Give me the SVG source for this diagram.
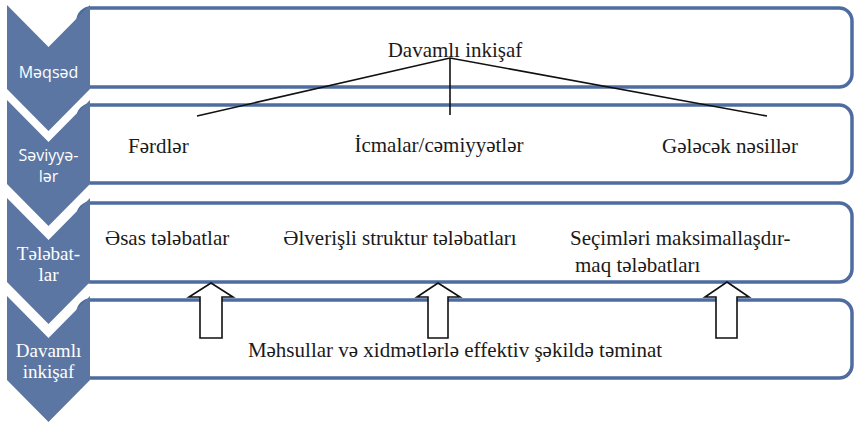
<svg xmlns="http://www.w3.org/2000/svg" width="855" height="427" viewBox="0 0 855 427">
<defs>
<style>
.box{fill:#fff;stroke:#4e6ca0;stroke-width:3.5}
.chev{fill:#5b76a3}
.ct{fill:#fff;font-family:"Open Sans","Liberation Sans",sans-serif;font-size:16px;text-anchor:middle}
.cs{fill:#fff;font-family:"Liberation Serif","DejaVu Serif",serif;font-size:19px;text-anchor:middle}
.t{fill:#1a1a1a;font-family:"Liberation Serif","DejaVu Serif",serif;font-size:21px}
.m{text-anchor:middle}
.ln{stroke:#111;stroke-width:1.6;fill:none}
.arr{fill:#fff;stroke:#111;stroke-width:1.6;stroke-linejoin:miter}
</style>
</defs>
<rect width="855" height="427" fill="#fff"/>
<g id="row1">
<rect class="box" x="78" y="8" width="774" height="79" rx="13"/>
<polygon class="chev" points="7,5 48.5,47 90,5 90,89 48.5,131 7,89"/>
<text class="ct" x="48.5" y="78">Məqsəd</text>
<text class="t m" x="455" y="57">Davamlı inkişaf</text>
</g>
<g id="row2">
<rect class="box" x="78" y="105" width="774" height="78" rx="13"/>
<polygon class="chev" points="7,100 48.5,142 90,100 90,184 48.5,226 7,184"/>
<text class="ct" x="48.5" y="161">Səviyyə-</text>
<text class="ct" x="48.5" y="182">lər</text>
<text class="t" x="128" y="153">Fərdlər</text>
<text class="t m" x="439" y="152">İcmalar/cəmiyyətlər</text>
<text class="t m" x="730" y="153">Gələcək nəsillər</text>
</g>
<g id="row3">
<rect class="box" x="78" y="203" width="774" height="79" rx="13"/>
<polygon class="chev" points="7,198 48.5,240 90,198 90,282 48.5,324 7,282"/>
<text class="cs" x="48.5" y="260">Tələbat-</text>
<text class="cs" x="48.5" y="281">lar</text>
<text class="t" x="105" y="245">Əsas tələbatlar</text>
<text class="t m" x="400" y="245">Əlverişli struktur tələbatları</text>
<text class="t" x="570" y="245">Seçimləri maksimallaşdır-</text>
<text class="t" x="575" y="272">maq tələbatları</text>
</g>
<g id="row4">
<rect class="box" x="78" y="300" width="774" height="78" rx="13"/>
<polygon class="chev" points="7,296 48.5,338 90,296 90,380 48.5,422 7,380"/>
<text class="cs" x="48.5" y="357">Davamlı</text>
<text class="cs" x="48.5" y="378">inkişaf</text>
<text class="t m" x="455" y="357">Məhsullar və xidmətlərlə effektiv şəkildə təminat</text>
</g>
<g id="connectors">
<polyline class="ln" points="197,116 450,58 767,116"/>
<line class="ln" x1="450" y1="58" x2="450" y2="115"/>
<polygon class="arr" points="211,283 233,297 222,297 222,338 200,338 200,297 189,297"/>
<polygon class="arr" points="438,283 460,297 448,297 448,338 428,338 428,297 417,297"/>
<polygon class="arr" points="727,282 749,297 737,297 737,338 716,338 716,297 705,297"/>
</g>
</svg>
